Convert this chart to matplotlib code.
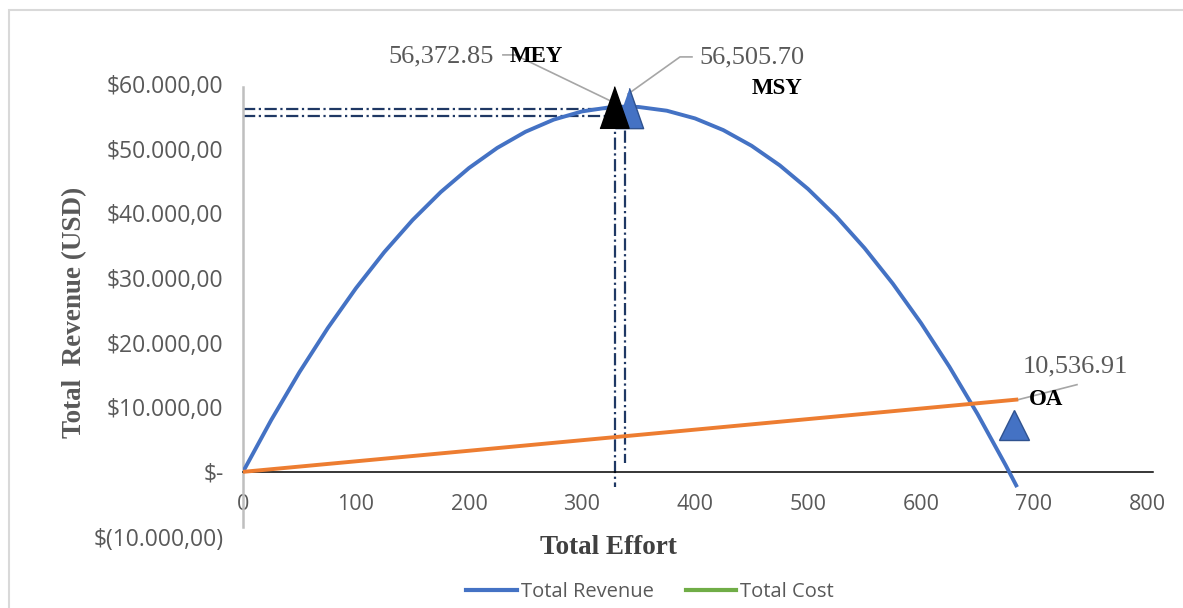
import matplotlib.pyplot as plt
from matplotlib.lines import Line2D
from matplotlib.patches import Rectangle

# data
effort = [0, 25, 50, 75, 100, 125, 150, 175, 200, 225, 250, 275, 300, 325, 339,
          350, 375, 400, 425, 450, 475, 500, 525, 550, 575, 600, 625, 650, 675, 685]
revenue = [0, 8027, 15439, 22237, 28420, 33989, 38943, 43282, 47007, 50117, 52612,
           54493, 55759, 56410, 56506, 56447, 55869, 54677, 52870, 50448, 47412,
           43761, 39496, 34616, 29121, 23012, 16288, 8949, 996, -2358]
cost_effort = [0, 686]
cost = [0, 11200]

mey_point = (328, 56500)
msy_point = (342, 56280)
oa_point = (682, 7300)

# reference (dash-dot) guide lines
h_guides = [(56100, 338), (55000, 329)]        # revenue level, effort end
v_guides = [(338, 56100, 1400), (329, 55000, -2300)]  # effort, top, bottom

x_ticks = [0, 100, 200, 300, 400, 500, 600, 700, 800]
y_ticks = [-10000, 0, 10000, 20000, 30000, 40000, 50000, 60000]
y_labels = ['$(10.000,00)', '$-', '$10.000,00', '$20.000,00', '$30.000,00',
            '$40.000,00', '$50.000,00', '$60.000,00']

BLUE = '#4472C4'
ORANGE = '#ED7D31'
GREEN = '#70AD47'
NAVY = '#1F3864'
GREY = '#595959'
SERIF = 'Liberation Serif'
SANS = 'Open Sans'

W, H = 1183, 608
fig = plt.figure(figsize=(W / 100, H / 100), dpi=100)

# chart border
fig.patches.append(Rectangle((9 / W, -0.1), 1.2, 1.1 - 10 / H, transform=fig.transFigure,
                             fill=False, edgecolor='#d9d9d9', lw=1.5))

ax = fig.add_axes([243 / W, 1 - 536.5 / H, (1152.7 - 243) / W, (536.5 - 84) / H])
ax.set_xlim(0, 805)
ax.set_ylim(-10000, 60000)

for s in ['top', 'right']:
    ax.spines[s].set_visible(False)
ax.spines['left'].set_color('#bfbfbf')
ax.spines['left'].set_linewidth(1.8)
ax.spines['left'].set_bounds(-8500, 59600)
ax.spines['bottom'].set_position(('data', 0))
ax.spines['bottom'].set_color('black')
ax.spines['bottom'].set_linewidth(1.1)

ax.set_xticks(x_ticks)
ax.set_xticklabels([str(v) for v in x_ticks])
ax.set_yticks(y_ticks)
ax.set_yticklabels(y_labels)
ax.tick_params(axis='x', length=0, pad=16, labelsize=15.5, labelcolor=GREY)
ax.tick_params(axis='y', length=0, pad=14, labelsize=16.5, labelcolor=GREY)
for lab in ax.get_xticklabels() + ax.get_yticklabels():
    lab.set_family(SANS)

dash = (0, (5.5, 1.6, 1, 1.6))
for yv, xe in h_guides:
    ax.plot([0, xe], [yv, yv], color=NAVY, lw=1.6, linestyle=dash, zorder=2)
for xv, top, bot in v_guides:
    ax.plot([xv, xv], [top, bot], color=NAVY, lw=1.6, linestyle=dash, zorder=2)

ax.plot(effort, revenue, color=BLUE, lw=2.8, zorder=3, solid_capstyle='butt',
        solid_joinstyle='round')
ax.plot(cost_effort, cost, color=ORANGE, lw=2.8, zorder=3, solid_capstyle='butt')

tall_tri = [(-0.7, -1), (0.7, -1), (0, 1)]
ax.plot(*msy_point, marker=tall_tri, ms=29, color=BLUE, mec='#2F528F', mew=1, zorder=4)
ax.plot(*mey_point, marker=tall_tri, ms=30, color='black', zorder=5)
ax.plot(*oa_point, marker='^', ms=21, color=BLUE, mec='#2F528F', mew=1, zorder=4)

# leader lines
lead = dict(color='#a6a6a6', lw=1.2, zorder=1, clip_on=False)
ax.plot([230, 240.7, 327.4], [64500, 64500, 57200], **lead)
ax.plot([397.3, 386.7, 340.7], [64190, 64190, 58450], **lead)
ax.plot([685.8, 738], [11160, 13490], **lead)

ax.text(175, 64190, '56,372.85', family=SERIF, fontsize=19, color=GREY,
        ha='center', va='center')
ax.text(236, 64190, 'MEY', family=SERIF, fontsize=16.5, fontweight='bold',
        color='black', ha='left', va='center')
ax.text(404, 64030, '56,505.70', family=SERIF, fontsize=19, color=GREY,
        ha='left', va='center')
ax.text(495, 59380, 'MSY', family=SERIF, fontsize=16.5, fontweight='bold',
        color='black', ha='right', va='center')
ax.text(737, 16280, '10,536.91', family=SERIF, fontsize=19, color=GREY,
        ha='center', va='center')
ax.text(695, 11160, 'OA', family=SERIF, fontsize=16.5, fontweight='bold',
        color='black', ha='left', va='center')

fig.text(608 / W, 1 - 548 / H, 'Total Effort', family=SERIF, fontsize=19.5,
         fontweight='bold', color='#404040', ha='center', va='center')
fig.text(75 / W, 1 - 312 / H, 'Total  Revenue (USD)', family=SERIF, fontsize=19.5,
         fontweight='bold', color=GREY, ha='center', va='center', rotation=90)

handles = [Line2D([], [], color=BLUE, lw=3), Line2D([], [], color=GREEN, lw=3)]
fig.legend(handles, ['Total Revenue', 'Total Cost'], loc='center',
           bbox_to_anchor=(650 / W, 1 - 592 / H), ncol=2, frameon=False,
           prop={'family': SANS, 'size': 14.5}, labelcolor=GREY, handlelength=2.5,
           handletextpad=0.2, columnspacing=1.6)

fig.savefig('out.png', dpi=100)
